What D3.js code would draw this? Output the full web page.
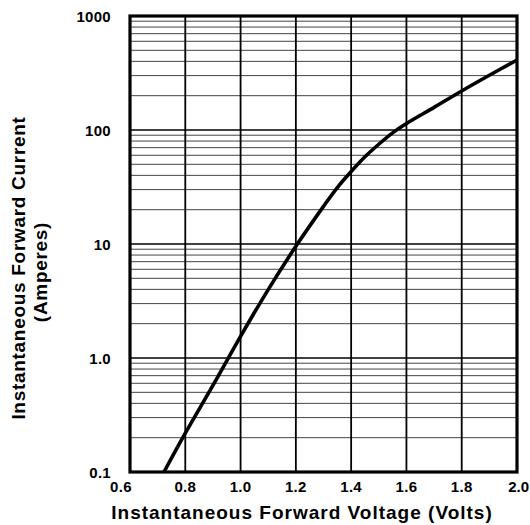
<!DOCTYPE html>
<html><head><meta charset="utf-8">
<script src="https://cdn.jsdelivr.net/npm/d3@7"></script>
<style>body{margin:0;background:#fff}svg{display:block}text{font-family:"Liberation Sans",Arial,sans-serif;font-weight:bold;fill:#000}</style>
</head><body>
<script>
const voltage = [0.723, 0.8, 0.9, 1.0, 1.1, 1.2, 1.3, 1.35, 1.4, 1.45, 1.5, 1.55, 1.6, 1.7, 1.8, 1.9, 2.0];
const current = [0.1, 0.219, 0.575, 1.55, 3.98, 9.55, 21.4, 31.3, 43.2, 58.2, 75, 94.4, 114, 158, 220, 302, 411];
const xTicks = [0.6, 0.8, 1.0, 1.2, 1.4, 1.6, 1.8, 2.0];
const xTickLabels = ["0.6", "0.8", "1.0", "1.2", "1.4", "1.6", "1.8", "2.0"];
const yTicks = [0.1, 1, 10, 100, 1000];
const yTickLabels = ["0.1", "1.0", "10", "100", "1000"];

const W = 530, H = 525;
const L = 130, R = 517, T = 16, B = 472;
const svg = d3.select("body").append("svg").attr("width", W).attr("height", H);
const x = d3.scaleLinear().domain([0.6, 2.0]).range([L, R]);
const y = d3.scaleLog().domain([0.1, 1000]).range([B, T]);

// minor horizontal grid
const minor = [];
for (let d = 0.1; d < 1000; d *= 10) for (let k = 2; k <= 9; k++) minor.push(+(d * k).toPrecision(3));
svg.append("g").selectAll("line").data(minor).join("line")
  .attr("x1", L).attr("x2", R).attr("y1", d => y(d)).attr("y2", d => y(d))
  .attr("stroke", "#444").attr("stroke-width", 1);
// major horizontal
svg.append("g").selectAll("line").data(yTicks).join("line")
  .attr("x1", L).attr("x2", R).attr("y1", d => y(d)).attr("y2", d => y(d))
  .attr("stroke", "#000").attr("stroke-width", 1.6);
// vertical grid
svg.append("g").selectAll("line").data(xTicks).join("line")
  .attr("x1", d => x(d)).attr("x2", d => x(d)).attr("y1", T).attr("y2", B)
  .attr("stroke", "#000").attr("stroke-width", 1.8);

// curve
const pts = voltage.map((v, i) => [v, current[i]]);
svg.append("path").datum(pts)
  .attr("d", d3.line().x(d => x(d[0])).y(d => y(d[1])).curve(d3.curveCatmullRom.alpha(0.5)))
  .attr("fill", "none").attr("stroke", "#000").attr("stroke-width", 3.6);

// frame
svg.append("rect").attr("x", L).attr("y", T).attr("width", R - L).attr("height", B - T)
  .attr("fill", "none").attr("stroke", "#000").attr("stroke-width", 3.2);

// y tick labels
svg.append("g").selectAll("text").data(yTicks).join("text")
  .attr("x", 111).attr("y", d => y(d) + 6).attr("text-anchor", "end")
  .attr("font-size", 15).attr("letter-spacing", 0.3).text((d, i) => yTickLabels[i]);
// x tick labels
svg.append("g").selectAll("text").data(xTicks).join("text")
  .attr("x", d => d === 0.6 ? x(d) - 9 : (d === 2.0 ? 529 : x(d)))
  .attr("text-anchor", d => d === 2.0 ? "end" : "middle")
  .attr("y", 492).attr("font-size", 15).attr("letter-spacing", d => d === 2.0 ? 0 : 0.3)
  .text((d, i) => xTickLabels[i]);

// axis titles
svg.append("text").attr("x", 302).attr("y", 519).attr("text-anchor", "middle")
  .attr("font-size", 19).attr("letter-spacing", 1).text("Instantaneous Forward Voltage (Volts)");
svg.append("text").attr("transform", "translate(25,268) rotate(-90)").attr("text-anchor", "middle")
  .attr("font-size", 19).attr("letter-spacing", 0.7).text("Instantaneous Forward Current");
svg.append("text").attr("transform", "translate(47,272) rotate(-90)").attr("text-anchor", "middle")
  .attr("font-size", 19).attr("letter-spacing", 0.7).text("(Amperes)");
</script>
</body></html>
